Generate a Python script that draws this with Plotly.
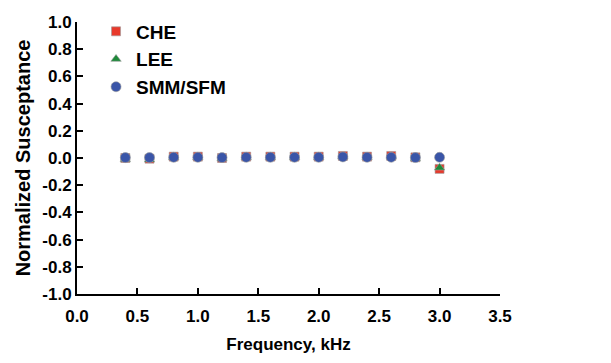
import plotly.graph_objects as go

freq = [0.4, 0.6, 0.8, 1.0, 1.2, 1.4, 1.6, 1.8, 2.0, 2.2, 2.4, 2.6, 2.8, 3.0]
che = [0.0, -0.005, 0.01, 0.01, 0.0, 0.01, 0.01, 0.01, 0.01, 0.015, 0.01, 0.015, 0.005, -0.08]
lee = [-0.01, -0.012, 0.005, 0.005, -0.005, 0.005, 0.005, 0.005, 0.005, 0.01, 0.005, 0.01, -0.005, -0.072]
smm = [0.003, 0.003, 0.005, 0.005, 0.003, 0.005, 0.005, 0.005, 0.005, 0.008, 0.005, 0.005, 0.003, 0.005]

y_ticks = [-1.0, -0.8, -0.6, -0.4, -0.2, 0.0, 0.2, 0.4, 0.6, 0.8, 1.0]
y_ticktext = ["-1.0", "-0.8", "-0.6", "-0.4", "-0.2", "0.0", "0.2", "0.4", "0.6", "0.8", "1.0"]
x_ticks = [0.0, 0.5, 1.0, 1.5, 2.0, 2.5, 3.0, 3.5]
x_ticktext = ["0.0", "0.5", "1.0", "1.5", "2.0", "2.5", "3.0", "3.5"]

font = "Liberation Sans"

def b(s):
    return "<b>" + s + "</b>"

fig = go.Figure()
fig.add_trace(go.Scatter(x=freq, y=che, mode="markers", name=b("CHE"),
                         marker=dict(symbol="square", size=9, color="#e8392b",
                                     line=dict(width=0.6, color="#9a9a9a"))))
fig.add_trace(go.Scatter(x=freq, y=lee, mode="markers", name=b("LEE"),
                         marker=dict(symbol="triangle-up", size=9, color="#1e8a3a",
                                     line=dict(width=0.6, color="#9a9a9a"))))
fig.add_trace(go.Scatter(x=freq, y=smm, mode="markers", name=b("SMM/SFM"),
                         marker=dict(symbol="circle", size=10, color="#3a55a8",
                                     line=dict(width=0.6, color="#9a9a9a"))))

tf = dict(family=font, size=17, color="black", weight="bold")

fig.update_layout(
    width=611, height=363,
    margin=dict(l=77, r=111, t=18, b=69),
    paper_bgcolor="white", plot_bgcolor="white",
    font=dict(family=font, size=17, color="black"),
    showlegend=True,
    legend=dict(x=0.045, y=1.035, xanchor="left", yanchor="top",
                font=dict(family=font, size=19, color="black"),
                bgcolor="rgba(0,0,0,0)", itemsizing="trace",
                tracegroupgap=0, itemwidth=30),
    xaxis=dict(range=[0, 3.5], tickvals=x_ticks, ticktext=x_ticktext,
               showline=True, linecolor="black", linewidth=2,
               ticks="inside", ticklen=6, tickwidth=1.5, tickcolor="black",
               showgrid=False, zeroline=False, ticklabelstandoff=6,
               title=dict(text=b("Frequency, kHz"), standoff=13,
                          font=dict(family=font, size=17, color="black")),
               tickfont=tf),
    yaxis=dict(range=[-1.0, 1.0], tickvals=y_ticks, ticktext=y_ticktext,
               showline=True, linecolor="black", linewidth=2,
               ticks="inside", ticklen=6, tickwidth=1.5, tickcolor="black",
               showgrid=False, zeroline=False,
               title=dict(text=b("Normalized Susceptance"), standoff=6,
                          font=dict(family=font, size=20, color="black")),
               tickfont=tf),
)

fig.write_html("out.html")
